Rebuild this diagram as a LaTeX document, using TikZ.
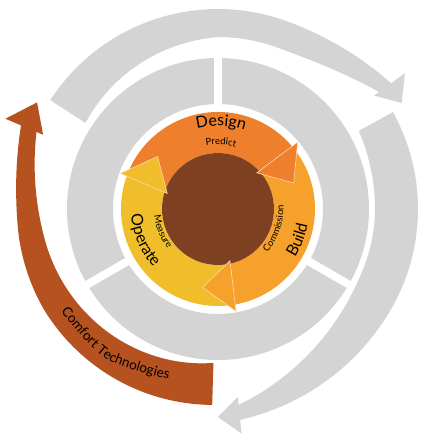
\documentclass[tikz,border=0pt]{standalone}
\usepackage{fontspec}
\setmainfont{Lato}
\usetikzlibrary{decorations.text}
\definecolor{ringgray}{RGB}{212,212,212}
\definecolor{designorange}{RGB}{238,127,45}
\definecolor{buildorange}{RGB}{245,161,43}
\definecolor{operateyellow}{RGB}{240,189,43}
\definecolor{corebrown}{RGB}{125,65,33}
\definecolor{comfortrust}{RGB}{181,82,31}
\newcommand\bigfont{\fontsize{16}{18}\selectfont}
\newcommand\smallfont{\fontsize{9.5}{11}\selectfont}
\newcommand\comfortfont{\fontsize{13.5}{15}\selectfont}
\tikzset{
  gray_ring/.style = {fill=ringgray, even odd rule},
  gray_arrow/.style = {fill=ringgray},% fleches exterieures
  comfort_arrow/.style = {fill=comfortrust},
  design_part/.style = {fill=designorange},
  build_part/.style = {fill=buildorange},
  operate_part/.style = {fill=operateyellow},
  head_edge/.style = {draw=white!75!orange, line width=0.5pt},% pointe de fleche
  curved_text/.style = {decorate, decoration={text along path,
    text align=center, text={#1}}}
}
\begin{document}
\begin{tikzpicture}[x=1pt, y=1pt,
    declare function={
      topout(\t) = 200 + 14*(max(0,70-\t)/34)^2;
      topin(\t) = 172 - 14*max(0,\t-90)/57 + 27*(max(0,70-\t)/34)^2;
      rightout(\t) = 200 + 12*(max(0,-30-\t)/54)^2;
      rightin(\t) = 157 + 4*(max(0,\t)/29)^2 + 40*(max(0,-20-\t)/64)^2;
      ctout(\t) = 196 + 5*min(1,(268.3-\t)/58) + 13*(max(0,185-\t)/28)^2;
      ctin(\t) = 154 + 0.28*(268.3-\t) + 12*(max(0,190-\t)/33)^2;
    }]
  \fill[white] (0,0) rectangle (423,440);
  \begin{scope}[shift={(218,231)}]
    % anneau gris
    \fill[gray_ring] (0,0) circle[radius=151] (0,0) circle[radius=105];
    \foreach \a in {90,210,330}
      \draw[white, line width=8pt] (\a:100) -- (\a:157);
    % fleches grises
    \fill[gray_arrow] plot[domain=147:36, samples=60] (\x:{topout(\x)})
      -- (36:231) -- (30:212) -- (36:193)
      -- plot[domain=36:147, samples=60] (\x:{topin(\x)}) -- cycle;
    \fill[gray_arrow] plot[domain=29:-84, samples=60] (\x:{rightout(\x)})
      -- (-84:226) -- (-90:208) -- (-84:189)
      -- plot[domain=-84:29, samples=60] (\x:{rightin(\x)}) -- cycle;
    % Comfort Technologies
    \fill[comfort_arrow] plot[domain=268.3:157, samples=60] (\x:{ctout(\x)})
      -- (157:231) -- (149.5:210) -- (157:190)
      -- plot[domain=157:268.3, samples=60] (\x:{ctin(\x)}) -- cycle;
    % cycle central
    \fill[design_part] (160:97) arc[start angle=160, end angle=40, radius=97]
      -- (43:56) arc[start angle=43, end angle=163, radius=56] -- cycle;
    \fill[build_part] (40:97) arc[start angle=40, end angle=-80, radius=97]
      -- (-77:56) arc[start angle=-77, end angle=43, radius=56] -- cycle;
    \fill[operate_part] (-80:97) arc[start angle=-80, end angle=-200, radius=97]
      -- (-197:56) arc[start angle=-197, end angle=-77, radius=56] -- cycle;
    \fill[corebrown] (0,0) circle[radius=56];
    \filldraw[design_part, head_edge] (43:53) -- (40:104) -- (19:80) -- cycle;
    \filldraw[build_part, head_edge] (-77:53) -- (-80:104) -- (-101:80) -- cycle;
    \filldraw[operate_part, head_edge] (163:53) -- (160:104) -- (139:80) -- cycle;
    % textes
    \path[curved_text={|\bigfont|Design}]
      (140:83) arc[start angle=140, end angle=36, radius=83];
    \path[curved_text={|\smallfont|Predict}]
      (130:64.5) arc[start angle=130, end angle=45, radius=64.5];
    \path[curved_text={|\bigfont|Build}]
      (-61:91) arc[start angle=-61, end angle=19, radius=91];
    \path[curved_text={|\smallfont|Commission}]
      (-60:65.5) arc[start angle=-60, end angle=22, radius=65.5];
    \path[curved_text={|\smallfont|Measure}]
      (160:64) arc[start angle=160, end angle=244, radius=64];
    \path[curved_text={|\bigfont|Operate}]
      (160:87) arc[start angle=160, end angle=246, radius=87];
    \path[curved_text={|\comfortfont|Comfort Technologies}]
      plot[smooth] coordinates {(200:195) (233:187) (268:179)};
  \end{scope}
\end{tikzpicture}
\end{document}
